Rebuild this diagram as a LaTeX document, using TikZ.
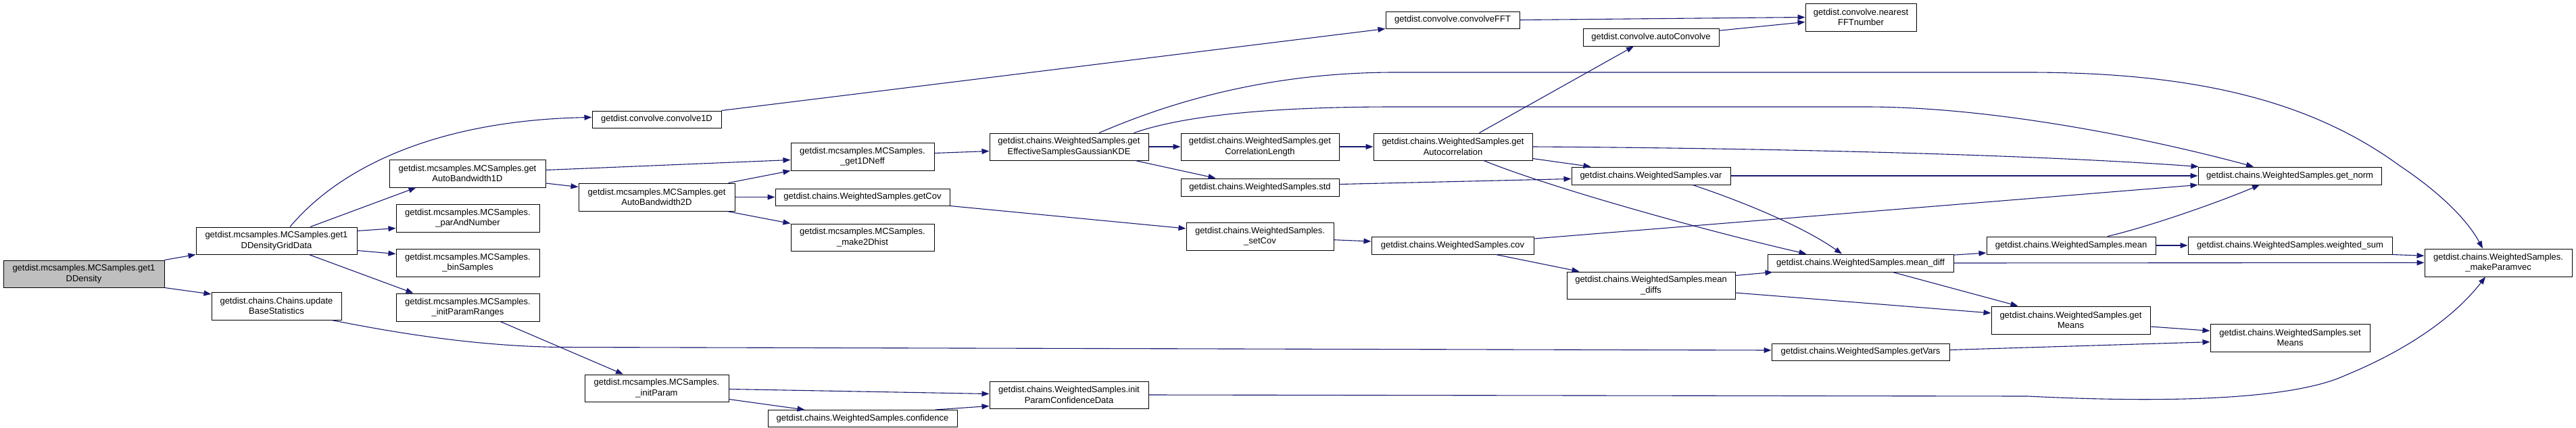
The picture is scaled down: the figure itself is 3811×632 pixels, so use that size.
\documentclass[tikz,border=0pt]{standalone}
\usepackage{fontspec}
\setmainfont{Liberation Sans}
\usetikzlibrary{arrows.meta,calc}
\definecolor{edgecol}{HTML}{191970}
\definecolor{rootfill}{HTML}{BFBFBF}
\newcommand\mybox[5]{\node[box,minimum width=#3,minimum height=#4] (#1) at (#2) {#5};}
\begin{document}
\begin{tikzpicture}[x=1pt,y=-1pt,
  box/.style={draw=black,line width=1pt,fill=white,rectangle,inner sep=0pt,align=center,font=\fontsize{13}{15.5}\selectfont},
  call/.style={draw=edgecol,line width=1.1pt,-{Triangle[length=11pt,width=8pt]}}]
\useasboundingbox (0,0) rectangle (3811,632);
% nodes
\node[box,fill=rootfill,minimum width=238,minimum height=40] (root) at (124,405) {getdist.mcsamples.MCSamples.get1\\DDensity};
\mybox{grid}{409,356}{238}{40}{getdist.mcsamples.MCSamples.get1\\DDensityGridData}
\mybox{ubs}{409,452.5}{192}{41}{getdist.chains.Chains.update\\BaseStatistics}
\mybox{abw1}{691.5,256.5}{231}{41}{getdist.mcsamples.MCSamples.get\\AutoBandwidth1D}
\mybox{par}{692,322.5}{212}{41}{getdist.mcsamples.MCSamples.\\\_parAndNumber}
\mybox{bin}{692,388.5}{212}{41}{getdist.mcsamples.MCSamples.\\\_binSamples}
\mybox{ipr}{692,454.5}{212}{41}{getdist.mcsamples.MCSamples.\\\_initParamRanges}
\mybox{c1d}{971.5,176.5}{191}{25}{getdist.convolve.convolve1D}
\mybox{abw2}{971.5,291.5}{231}{41}{getdist.mcsamples.MCSamples.get\\AutoBandwidth2D}
\mybox{ip}{971.5,574}{213}{40}{getdist.mcsamples.MCSamples.\\\_initParam}
\mybox{neff}{1276,231.5}{212}{41}{getdist.mcsamples.MCSamples.\\\_get1DNeff}
\mybox{getcov}{1276,291.5}{258}{25}{getdist.chains.WeightedSamples.getCov}
\mybox{m2d}{1276,351}{212}{40}{getdist.mcsamples.MCSamples.\\\_make2Dhist}
\mybox{conf}{1276,619}{280}{25}{getdist.chains.WeightedSamples.confidence}
\mybox{kde}{1581.5,217}{235}{40}{getdist.chains.WeightedSamples.get\\EffectiveSamplesGaussianKDE}
\mybox{ipcd}{1581.5,584}{235}{40}{getdist.chains.WeightedSamples.init\\ParamConfidenceData}
\mybox{corr}{1864,217}{234}{40}{getdist.chains.WeightedSamples.get\\CorrelationLength}
\mybox{std}{1864,277}{234}{26}{getdist.chains.WeightedSamples.std}
\mybox{setcov}{1864,349.5}{218}{41}{getdist.chains.WeightedSamples.\\\_setCov}
\mybox{fft}{2149,29.5}{198}{25}{getdist.convolve.convolveFFT}
\mybox{autoc}{2149.5,217}{235}{40}{getdist.chains.WeightedSamples.get\\Autocorrelation}
\mybox{cov}{2149,363}{240}{26}{getdist.chains.WeightedSamples.cov}
\mybox{aconv}{2442.5,55}{201}{26}{getdist.convolve.autoConvolve}
\mybox{var}{2442.5,260}{235}{26}{getdist.chains.WeightedSamples.var}
\mybox{mdiffs}{2442.5,422}{249}{40}{getdist.chains.WeightedSamples.mean\\\_diffs}
\mybox{getvars}{2752.5,520.5}{263}{25}{getdist.chains.WeightedSamples.getVars}
\mybox{nfft}{2753,25.5}{164}{41}{getdist.convolve.nearest\\FFTnumber}
\mybox{mdiff}{2752.5,389}{275}{26}{getdist.chains.WeightedSamples.mean\_diff}
\mybox{getmeans}{3063.5,473.5}{235}{41}{getdist.chains.WeightedSamples.get\\Means}
\mybox{mean}{3064,363}{250}{26}{getdist.chains.WeightedSamples.mean}
\mybox{getnorm}{3387.5,260}{271}{26}{getdist.chains.WeightedSamples.get\_norm}
\mybox{wsum}{3388,363}{302}{26}{getdist.chains.WeightedSamples.weighted\_sum}
\mybox{setmeans}{3388,499.5}{236}{41}{getdist.chains.WeightedSamples.set\\Means}
\mybox{mpv}{3696,388.5}{218}{41}{getdist.chains.WeightedSamples.\\\_makeParamvec}
% edges
\draw[call] (root.north east) -- (grid.south west);
\draw[call] (root.south east) -- ($(ubs.north west)+(0,3.5)$);
\draw[call] ($(grid.north)+(20,0)$) .. controls (505,245) and (650,178) .. ($(c1d.west)+(0,-3)$);
\draw[call] ($(grid.north)+(50,0)$) -- ($(abw1.south west)+(40,0)$);
\draw[call] ($(grid.north east)+(0,6)$) -- ($(par.south west)+(0,-6)$);
\draw[call] ($(grid.south east)+(0,-6)$) -- ($(bin.west)+(0,-13)$);
\draw[call] ($(grid.south)+(48,0)$) -- ($(ipr.north west)+(26,0)$);
\draw[call] ($(ubs.south east)+(-15,0)$) .. controls (560,487) and (690,512) .. (830,513.5) -- ($(getvars.west)+(0,-2.5)$);
\draw[call] ($(abw1.east)+(0,-5)$) -- ($(neff.west)+(0,5)$);
\draw[call] ($(abw1.south east)+(0,-6.5)$) -- ($(abw2.north west)+(0,6)$);
\draw[call] ($(abw2.north east)+(-10,0)$) -- (neff.south west);
\draw[call] (abw2.east) -- (getcov.west);
\draw[call] ($(abw2.south east)+(-12,0)$) -- (m2d.north west);
\draw[call] ($(ipr.south)+(48,0)$) -- ($(ip.north)+(-49.5,0)$);
\draw[call] (c1d.north east) -- (fft.south west);
\draw[call] ($(neff.east)+(0,-5)$) -- ($(kde.west)+(0,6.5)$);
\draw[call] (getcov.south east) -- ($(setcov.west)+(0,-11.5)$);
\draw[call] ($(ip.east)+(0,1.5)$) -- ($(ipcd.west)+(0,-1.5)$);
\draw[call] ($(ip.south east)+(0,-4)$) -- ($(conf.north west)+(55,0)$);
\draw[call] ($(conf.north east)+(-33,0)$) -- ($(ipcd.south west)+(0,-4)$);
\draw[call] (kde.east) -- (corr.west);
\draw[call] ($(kde.south east)+(-20,0)$) -- ($(std.north west)+(52,0)$);
\draw[call] ($(kde.north east)+(-22,0)$) .. controls (1760,168) and (1900,158) .. (2064,158) -- (2760,158) .. controls (2950,158) and (3180,205) .. ($(getnorm.north)+(-53.5,0)$);
\draw[call] ($(kde.north)+(44.5,0)$) .. controls (1700,165) and (1850,107) .. (2064,107) -- (3000,107) .. controls (3250,107) and (3420,150) .. (3550,245) .. controls (3610,285) and (3650,325) .. ($(mpv.north)+(-23,0)$);
\draw[call] (corr.east) -- (autoc.west);
\draw[call] ($(autoc.north)+(39,0)$) -- ($(aconv.south)+(-25.5,0)$);
\draw[call] (autoc.east) .. controls (2600,219) and (3000,228) .. ($(getnorm.north west)+(1,0)$);
\draw[call] ($(autoc.south east)+(0,-3)$) -- ($(var.north west)+(29,0)$);
\draw[call] ($(autoc.south)+(45.5,0)$) .. controls (2295,278) and (2522,341) .. ($(mdiff.north)+(-80,0)$);
\draw[call] ($(std.east)+(0,-4.5)$) -- ($(var.west)+(0,4.5)$);
\draw[call] (var.east) -- (getnorm.west);
\draw[call] ($(var.south)+(61.5,0)$) .. controls (2560,292) and (2660,330) .. ($(mdiff.north)+(-27.5,0)$);
\draw[call] ($(cov.east)+(0,-10)$) -- (getnorm.south west);
\draw[call] ($(cov.south)+(64,0)$) -- ($(mdiffs.north west)+(19,0)$);
\draw[call] ($(setcov.east)+(0,5.2)$) -- ($(cov.west)+(0,-6)$);
\draw[call] (fft.east) -- (nfft.west);
\draw[call] ($(aconv.north east)+(0,3.7)$) -- ($(nfft.west)+(0,7)$);
\draw[call] ($(mdiffs.north east)+(0,6)$) -- ($(mdiff.south west)+(8,0)$);
\draw[call] ($(mdiffs.south east)+(0,-9.5)$) -- ($(getmeans.west)+(0,-10.5)$);
\draw[call] ($(mdiff.north east)+(0,1.6)$) -- ($(mean.south west)+(0,-2.5)$);
\draw[call] (mdiff.east) -- (mpv.west);
\draw[call] ($(mdiff.south)+(47.5,0)$) -- ($(getmeans.north west)+(40,0)$);
\draw[call] ($(mean.north)+(54,0)$) .. controls (3180,335) and (3280,300) .. ($(getnorm.south)+(-44.5,0)$);
\draw[call] (mean.east) -- (wsum.west);
\draw[call] (wsum.south east) -- ($(mpv.north west)+(0,10.8)$);
\draw[call] ($(getmeans.east)+(0,9.5)$) -- ($(setmeans.north west)+(0,10.8)$);
\draw[call] ($(getvars.east)+(0,-3)$) -- ($(setmeans.west)+(0,6.2)$);
\draw[call] (ipcd.east) -- (3000,586) .. controls (3200,596) and (3390,592) .. (3470,555) .. controls (3560,518) and (3630,470) .. ($(mpv.south)+(-19,0)$);
\end{tikzpicture}
\end{document}
